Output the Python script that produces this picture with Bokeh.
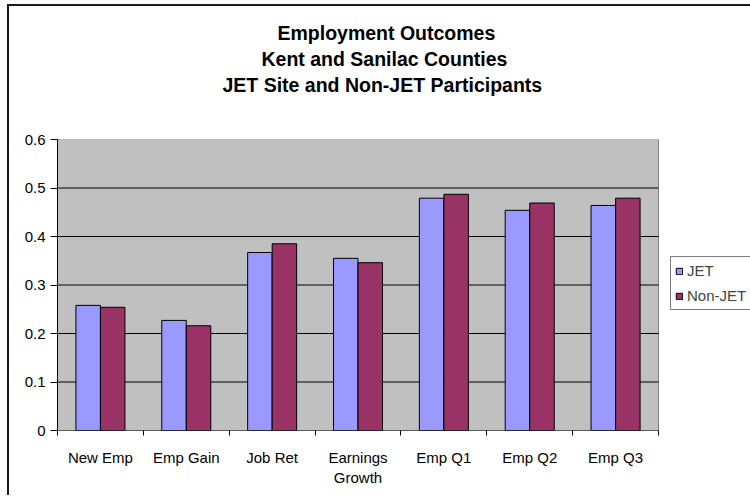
from bokeh.plotting import figure
from bokeh.models import FixedTicker, Legend, LegendItem, ColumnDataSource, Title
from bokeh.embed import file_html
from bokeh.resources import INLINE

categories = ["New Emp", "Emp Gain", "Job Ret", "Earnings\nGrowth", "Emp Q1", "Emp Q2", "Emp Q3"]
jet = [0.258, 0.227, 0.367, 0.355, 0.479, 0.454, 0.464]
non_jet = [0.254, 0.216, 0.385, 0.346, 0.487, 0.469, 0.479]
y_ticks = [0, 0.1, 0.2, 0.3, 0.4, 0.5, 0.6]
y_tick_labels = ["0", "0.1", "0.2", "0.3", "0.4", "0.5", "0.6"]
series_names = ["JET", "Non-JET"]
title_lines = ["Employment Outcomes", "Kent and Sanilac Counties", "JET Site and Non-JET Participants"]

FONT = "Liberation Sans"
n = len(categories)
idx = list(range(n))
bar_w = 0.285
off = 0.143
y_max = y_ticks[-1]

# frame spans x=57..750 px; the plot area (categories) covers 57..658 px
x_end = n * (750 - 57) / (658 - 57)

src = ColumnDataSource(dict(
    x_jet=[i + 0.5 - off for i in idx],
    x_non=[i + 0.5 + off for i in idx],
    jet=jet, non_jet=non_jet,
))

p = figure(width=750, height=495, x_range=(0, x_end), y_range=(0, y_max),
           output_backend="svg", toolbar_location=None,
           min_border_left=57, min_border_right=0, min_border_top=139, min_border_bottom=65)
p.border_fill_alpha = 0
p.background_fill_alpha = 0
p.outline_line_color = None
p.styles = {"background": "linear-gradient(#1a1a1a,#1a1a1a) 7px 4px / 2px 491px no-repeat, "
                          "linear-gradient(#1a1a1a,#1a1a1a) 7px 4px / 743px 2px no-repeat, white"}

# spacer nearest to the plot, then the three title lines (bottom to top)
p.add_layout(Title(text=" ", standoff=24, text_font=FONT, text_font_size="16px"), "above")
offsets = [165, 204, 220]
for line, o in zip(reversed(title_lines), offsets):
    p.add_layout(Title(text=line, align="left", offset=o, standoff=2, text_font=FONT,
                       text_font_size="19.5px", text_font_style="bold", text_color="black"),
                 "above")

# plot area background
p.quad(left=[0], right=[n], bottom=[0], top=[y_max],
       fill_color="#C0C0C0", line_color="#808080", line_width=1)
# horizontal grid lines across the plot area
p.segment(x0=[0] * (len(y_ticks) - 2), x1=[n] * (len(y_ticks) - 2),
          y0=y_ticks[1:-1], y1=y_ticks[1:-1], line_color="black", line_width=1)

r1 = p.vbar(x="x_jet", top="jet", width=bar_w, source=src,
            fill_color="#9999FF", line_color="black", line_width=1)
r2 = p.vbar(x="x_non", top="non_jet", width=bar_w, source=src,
            fill_color="#993366", line_color="black", line_width=1)

# bottom axis line across the plot area only
p.segment(x0=[0], x1=[n], y0=[0], y1=[0], line_color="black", line_width=1)

xa = p.xaxis[0]
xa.ticker = FixedTicker(ticks=[i + 0.5 for i in idx], minor_ticks=list(range(n + 1)))
xa.major_label_overrides = {i + 0.5: c for i, c in zip(idx, categories)}
xa.major_tick_out = 0
xa.major_tick_in = 0
xa.minor_tick_out = 5
xa.minor_tick_in = 0
xa.minor_tick_line_color = "black"
xa.axis_line_color = None
xa.major_label_standoff = 13
xa.major_label_text_font = FONT
xa.major_label_text_font_size = "15px"
xa.major_label_text_color = "black"

ya = p.yaxis[0]
ya.ticker = FixedTicker(ticks=y_ticks)
ya.major_label_overrides = {v: s for v, s in zip(y_ticks, y_tick_labels)}
ya.major_tick_out = 7
ya.major_tick_in = 0
ya.minor_tick_line_color = None
ya.axis_line_color = "black"
ya.major_label_standoff = 5
ya.major_label_text_font = FONT
ya.major_label_text_font_size = "15px"
ya.major_label_text_color = "black"

p.xgrid.grid_line_color = None
p.ygrid.grid_line_color = None

legend = Legend(items=[LegendItem(label=series_names[0], renderers=[r1]),
                       LegendItem(label=series_names[1], renderers=[r2])],
                location=(613, 120), orientation="vertical",
                glyph_width=8, glyph_height=8, label_height=19, spacing=6,
                padding=4, margin=0, label_standoff=4,
                label_text_font=FONT, label_text_font_size="15px",
                border_line_color="black", border_line_width=1,
                background_fill_color="white", background_fill_alpha=1)
p.add_layout(legend, "center")

open("out.html", "w").write(file_html(p, INLINE))
